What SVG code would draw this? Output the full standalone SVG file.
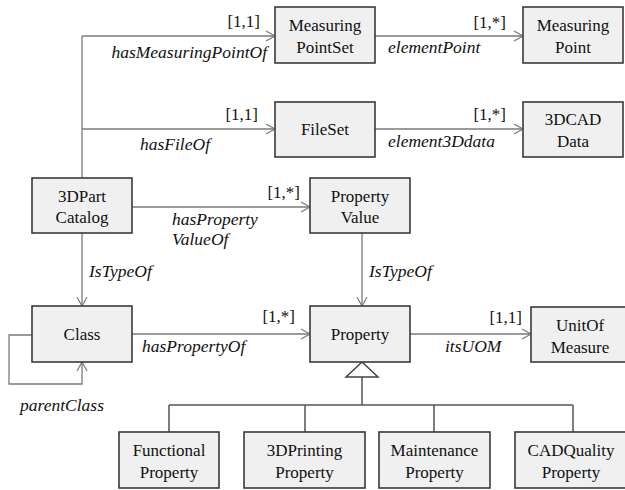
<svg xmlns="http://www.w3.org/2000/svg" width="625" height="490" viewBox="0 0 625 490" font-family="Liberation Serif, DejaVu Serif, serif">
  <style>
    .box { fill: #f0f0f0; stroke: #3a3a3a; stroke-width: 1.6; }
    text { font-family: "Liberation Serif", "DejaVu Serif", serif; }
    .name { font-size: 17px; fill: #111; text-anchor: middle; }
    .role { font-size: 17.5px; font-style: italic; fill: #111; }
    .mult { font-size: 17px; fill: #111; }
    .link { fill: none; stroke: #7a7a7a; stroke-width: 1.3; }
    .gen { fill: none; stroke: #555; stroke-width: 1.5; }
  </style>
  <defs>
    <marker id="open" viewBox="0 0 10 12" refX="10" refY="6" markerWidth="10" markerHeight="12" markerUnits="userSpaceOnUse" orient="auto">
      <path d="M1,1 L10,6 L1,11" fill="none" stroke="#7a7a7a" stroke-width="1.2"/>
    </marker>
  </defs>

  <rect width="625" height="490" fill="#ffffff"/>

  <!-- connectors -->
  <g id="connectors">
    <path class="link" d="M82,178 V36"/>
    <path class="link" d="M82,36 H275" marker-end="url(#open)"/>
    <path class="link" d="M82,129 H275" marker-end="url(#open)"/>
    <path class="link" d="M375,36 H523" marker-end="url(#open)"/>
    <path class="link" d="M375,129 H523" marker-end="url(#open)"/>
    <path class="link" d="M132,207 H310" marker-end="url(#open)"/>
    <path class="link" d="M82,233 V306" marker-end="url(#open)"/>
    <path class="link" d="M362,233 V306" marker-end="url(#open)"/>
    <path class="link" d="M132,334 H310" marker-end="url(#open)"/>
    <path class="link" d="M410,334 H531" marker-end="url(#open)"/>
    <path class="link" d="M32,335 H9 V384 H82 V362" marker-end="url(#open)"/>
    <!-- generalization -->
    <polygon points="362,362 346,377 378,377" fill="#ffffff" stroke="#444" stroke-width="1.5"/>
    <path class="gen" d="M362,377 V405 M169,405 H573 M169,405 V432 M305,405 V432 M434,405 V432 M573,405 V432"/>

    <text class="mult" x="260" y="27" text-anchor="end">[1,1]</text>
    <text class="role" x="267" y="58" text-anchor="end">hasMeasuringPointOf</text>
    <text class="mult" x="506" y="28" text-anchor="end">[1,*]</text>
    <text class="role" x="388" y="53">elementPoint</text>
    <text class="mult" x="258" y="120" text-anchor="end">[1,1]</text>
    <text class="role" x="140" y="150">hasFileOf</text>
    <text class="mult" x="506" y="120" text-anchor="end">[1,*]</text>
    <text class="role" x="388" y="147">element3Ddata</text>
    <text class="mult" x="300" y="198" text-anchor="end">[1,*]</text>
    <text class="role" x="172" y="225">hasProperty</text>
    <text class="role" x="172" y="245">ValueOf</text>
    <text class="role" x="89" y="277">IsTypeOf</text>
    <text class="role" x="369" y="277">IsTypeOf</text>
    <text class="mult" x="295" y="322" text-anchor="end">[1,*]</text>
    <text class="role" x="142" y="352">hasPropertyOf</text>
    <text class="mult" x="522" y="323" text-anchor="end">[1,1]</text>
    <text class="role" x="445" y="352">itsUOM</text>
    <text class="role" x="20" y="411">parentClass</text>
  </g>

  <g id="measuring-point-set">
    <rect class="box" x="275" y="7" width="100" height="56"/>
    <text class="name" x="325" y="31">Measuring</text>
    <text class="name" x="325" y="53">PointSet</text>
  </g>
  <g id="measuring-point">
    <rect class="box" x="523" y="7" width="100" height="56"/>
    <text class="name" x="573" y="31">Measuring</text>
    <text class="name" x="573" y="53">Point</text>
  </g>
  <g id="file-set">
    <rect class="box" x="275" y="102" width="100" height="55"/>
    <text class="name" x="325" y="135">FileSet</text>
  </g>
  <g id="cad-data">
    <rect class="box" x="523" y="102" width="100" height="55"/>
    <text class="name" x="573" y="125">3DCAD</text>
    <text class="name" x="573" y="147">Data</text>
  </g>
  <g id="part-catalog">
    <rect class="box" x="32" y="178" width="100" height="55"/>
    <text class="name" x="82" y="202">3DPart</text>
    <text class="name" x="82" y="223">Catalog</text>
  </g>
  <g id="property-value">
    <rect class="box" x="310" y="178" width="100" height="55"/>
    <text class="name" x="360" y="202">Property</text>
    <text class="name" x="360" y="223">Value</text>
  </g>
  <g id="class">
    <rect class="box" x="32" y="306" width="100" height="56"/>
    <text class="name" x="82" y="340">Class</text>
  </g>
  <g id="property">
    <rect class="box" x="310" y="306" width="100" height="56"/>
    <text class="name" x="360" y="340">Property</text>
  </g>
  <g id="unit-of-measure">
    <rect class="box" x="531" y="307" width="100" height="55"/>
    <text class="name" x="580" y="331">UnitOf</text>
    <text class="name" x="580" y="353">Measure</text>
  </g>
  <g id="functional-property">
    <rect class="box" x="119" y="432" width="100" height="56"/>
    <text class="name" x="169" y="456">Functional</text>
    <text class="name" x="169" y="478">Property</text>
  </g>
  <g id="printing-property">
    <rect class="box" x="244" y="432" width="121" height="56"/>
    <text class="name" x="304.5" y="456">3DPrinting</text>
    <text class="name" x="304.5" y="478">Property</text>
  </g>
  <g id="maintenance-property">
    <rect class="box" x="379" y="432" width="111" height="56"/>
    <text class="name" x="434.5" y="456">Maintenance</text>
    <text class="name" x="434.5" y="478">Property</text>
  </g>
  <g id="cad-quality-property">
    <rect class="box" x="515" y="432" width="113" height="56"/>
    <text class="name" x="571" y="456">CADQuality</text>
    <text class="name" x="571" y="478">Property</text>
  </g>
</svg>
